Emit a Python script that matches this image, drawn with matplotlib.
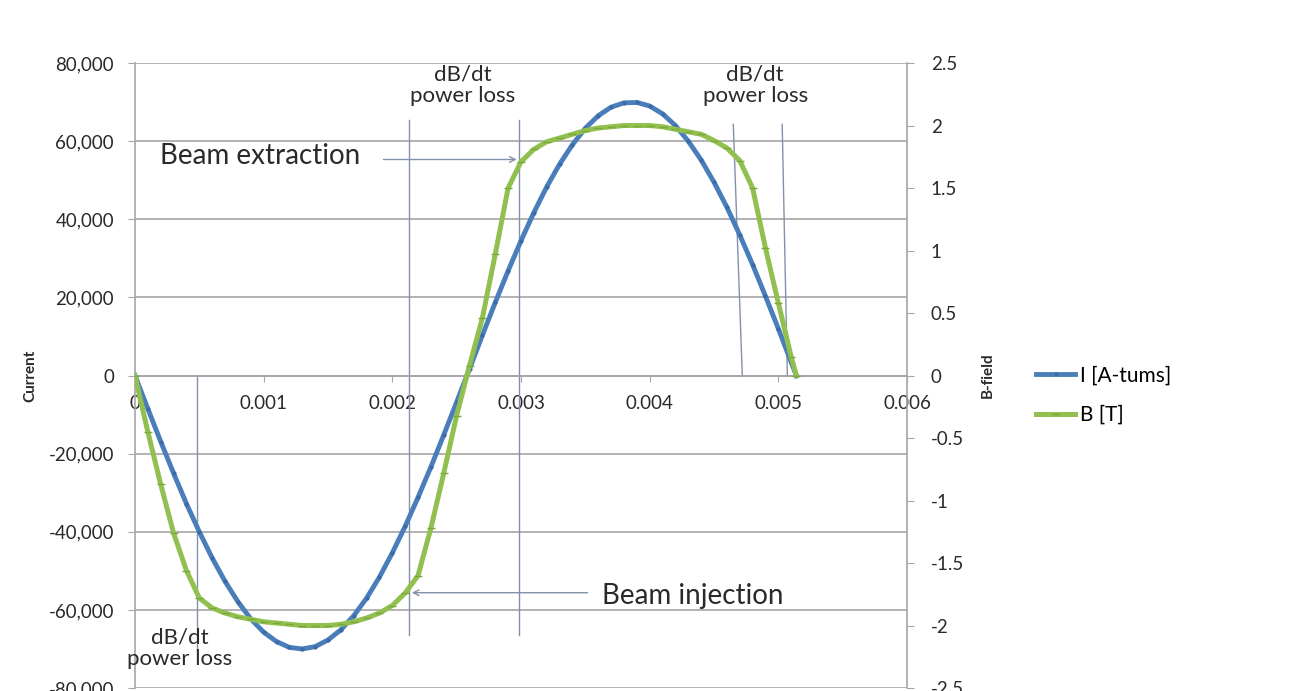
import numpy as np
import matplotlib
matplotlib.use("Agg")
from matplotlib import pyplot as plt
from matplotlib.ticker import FuncFormatter, MultipleLocator

plt.rcParams['font.family'] = ['Lato', 'DejaVu Sans']

# sample times [s]
t = np.append(np.arange(52) * 0.0001, 0.00514)

# magnet current I [A-turns]
current = [0, -8500, -16900, -25000, -32800, -40000, -46700, -52700, -57900, -62300,
           -65700, -68100, -69600, -70000, -69400, -67700, -65100, -61500, -57000, -51600,
           -45400, -38600, -31200, -23400, -15200, -6800, 1700, 10300, 18700, 26800,
           34500, 41700, 48300, 54100, 59100, 63300, 66500, 68700, 69800, 69900,
           69000, 67000, 64000, 60000, 55200, 49500, 43100, 36000, 28400, 20300,
           12000, 3400, 0]

# B-field [T]
bfield = [0, -0.45, -0.87, -1.26, -1.56, -1.78, -1.86, -1.90, -1.93, -1.95,
          -1.97, -1.98, -1.99, -2.0, -2.0, -2.0, -1.99, -1.97, -1.94, -1.90,
          -1.84, -1.74, -1.60, -1.22, -0.78, -0.32, 0.08, 0.46, 0.97, 1.50,
          1.71, 1.81, 1.87, 1.90, 1.93, 1.96, 1.98, 1.99, 2.0, 2.0,
          2.0, 1.99, 1.97, 1.95, 1.93, 1.88, 1.82, 1.72, 1.50, 1.02,
          0.58, 0.15, 0]

# marker lines (time, current from, current to)
vlines = [(0.00048, 0, -70100), (0.00213, 65500, -66300), (0.002988, 65500, -66300)]
slanted = [((0.00465, 64300), (0.00472, 0)), ((0.00503, 64300), (0.00507, 0))]

blue = '#4a7ebb'
green = '#92c050'
annot = '#8291ab'
gridc = '#a6a6a6'
txt = '#2a2a2a'

fig = plt.figure(figsize=(13.09, 6.91), dpi=100)
ax = fig.add_axes([0.1031, 0.0043, 0.5898, 0.9045])
ax2 = ax.twinx()

ax.set_xlim(0, 0.006)
ax.set_ylim(-80000, 80000)
ax2.set_ylim(-2.5, 2.5)

ax.yaxis.set_major_locator(MultipleLocator(20000))
ax.yaxis.set_major_formatter(FuncFormatter(lambda v, p: f"{v:,.0f}"))
ax.xaxis.set_major_locator(MultipleLocator(0.001))
ax.xaxis.set_major_formatter(FuncFormatter(lambda v, p: "0" if abs(v) < 1e-9 else f"{v:.3f}"))
ax2.yaxis.set_major_locator(MultipleLocator(0.5))
ax2.yaxis.set_major_formatter(FuncFormatter(lambda v, p: f"{v:g}"))

ax.grid(axis='y', color=gridc, linewidth=1.2)
ax.set_axisbelow(True)
ax.spines['top'].set_visible(False)
ax2.spines['top'].set_visible(False)
ax2.spines['bottom'].set_visible(False)
ax2.spines['left'].set_visible(False)
ax.spines['right'].set_visible(False)
ax.spines['bottom'].set_position(('data', 0))
for sp in [ax.spines['bottom'], ax.spines['left'], ax2.spines['right']]:
    sp.set_color(gridc)
    sp.set_linewidth(1.2)

ax.tick_params(axis='y', labelsize=13.5, colors=gridc, labelcolor=txt, length=5, pad=10)
ax.tick_params(axis='x', labelsize=13.5, colors=gridc, labelcolor=txt, length=4, pad=10)
ax2.tick_params(axis='y', labelsize=13.5, colors=gridc, labelcolor=txt, length=5, pad=12)

ax.set_ylabel("Current", fontsize=11, fontweight='bold', labelpad=8, color=txt)
ax2.set_ylabel("B-field", fontsize=11, fontweight='bold', rotation=90, labelpad=12, color=txt)

# annotation lines
for x0, y0, y1 in vlines:
    ax.plot([x0, x0], [y0, y1], color=annot, linewidth=1, zorder=1)
for (x0, y0), (x1, y1) in slanted:
    ax.plot([x0, x1], [y0, y1], color=annot, linewidth=1, zorder=1)

l1, = ax.plot(t, current, color=blue, linewidth=3.5, marker='o', markersize=3,
              markerfacecolor='#3a6aa8', markeredgewidth=0, label='I [A-tums]', zorder=3)
l2, = ax2.plot(t, bfield, color=green, linewidth=3.6, marker='_', markersize=6,
               markeredgecolor='#7aa83a', label='B [T]', zorder=3)

# arrows and labels
ax.annotate("", xy=(0.002988, 55300), xytext=(0.00191, 55300),
            arrowprops=dict(arrowstyle='->', color=annot, linewidth=1))
ax.text(0.000195, 56200, "Beam extraction", fontsize=20, color=txt, va='center', ha='left')
ax.annotate("", xy=(0.00213, -55600), xytext=(0.00354, -55600),
            arrowprops=dict(arrowstyle='->', color=annot, linewidth=1))
ax.text(0.00363, -56400, "Beam injection", fontsize=20, color=txt, va='center', ha='left')

for xc, yc in [(0.00255, 74300), (0.00482, 74300), (0.00035, -69800)]:
    ax.text(xc, yc, "dB/dt\npower loss", fontsize=16, color=txt, ha='center', va='center',
            linespacing=1.05)

fig.legend(handles=[l1, l2], loc='center left', bbox_to_anchor=(0.777, 0.428),
           frameon=False, fontsize=15, handlelength=1.9, handletextpad=0.2, labelspacing=0.95)

fig.savefig("out.png", dpi=100)
